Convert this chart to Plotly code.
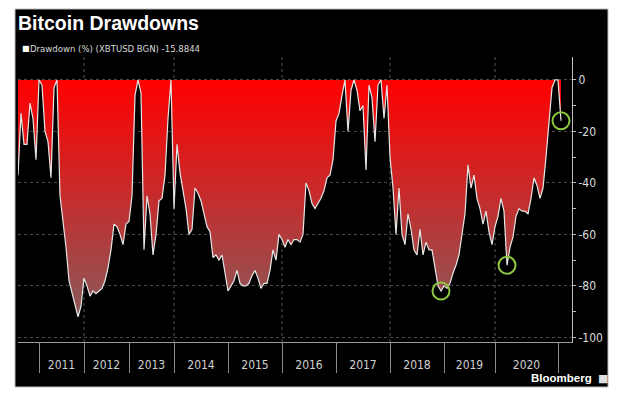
import plotly.graph_objects as go

drawdown = [
    -37, -13, -25, -25, -9, -15, -31, 0, -2, -20,
    -24, -38, -3, 0, -45, -54, -65, -78, -83, -88,
    -92, -88, -77, -80, -84, -82, -83, -82, -81, -78,
    -73, -66, -56, -57, -60, -64, -56, -55, -45, -6,
    0, -5, -66, -45, -52, -68, -60, -47, -46, -37,
    -15, 0, -50, -25, -36, -43, -50, -60, -58, -42,
    -44, -47, -52, -57, -59, -69, -68, -70, -68, -75,
    -82, -80, -78, -74, -79, -80, -80, -79, -76, -74,
    -77, -81, -79, -79, -74, -66, -70, -60, -62, -65,
    -62, -64, -62, -62, -63, -60, -40, -43, -48, -50,
    -48, -46, -43, -38, -37, -31, -16, -13, -6, 0,
    -20, -4, 0, -4, -12, -10, -35, -2, -7, -24,
    -2, 0, -15, -2, -30, -42, -60, -42, -60, -64,
    -52, -58, -66, -68, -58, -68, -63, -66, -66, -74,
    -80, -82, -80, -81, -79, -75, -72, -68, -60, -52,
    -33, -42, -37, -46, -50, -56, -51, -59, -64, -57,
    -53, -46, -51, -72, -65, -61, -53, -50, -51, -51,
    -52, -46, -38, -41, -46, -42, -30, -18, -3, 0,
    0, -15.8844,
]
obs = list(range(len(drawdown)))

# observation index at which each calendar year starts (2011 ... 2021)
year_start_obs = [7, 22, 37, 52, 70, 88, 106, 124, 142, 159, 180]
year_labels = ["2011", "2012", "2013", "2014", "2015",
               "2016", "2017", "2018", "2019", "2020"]

# highlighted observations (green circles)
highlight_obs = [141, 163, 181]

y_ticks = [0, -20, -40, -60, -80, -100]
y_minor = [-10, -30, -50, -70, -90]

# ---- derived ----
label_pos = [(a + b) / 2 for a, b in zip(year_start_obs[:-1], year_start_obs[1:])]
grid_years = year_start_obs[1::2]  # 2012, 2014, 2016, 2018, 2020

W, H = 624, 398
ML, MR, MT, MB = 18, 52, 57, 56
PW, PH = W - ML - MR, H - MT - MB

def px_x(p):
    return (p - ML) / PW

def px_y(p):
    return (H - MB - p) / PH

NARROW = "Liberation Sans Narrow, DejaVu Sans Condensed, Roboto, sans-serif"

fig = go.Figure()

fig.add_trace(go.Scatter(
    x=obs, y=drawdown, mode="lines",
    line=dict(color="#e6e6e6", width=1.2),
    fill="tozeroy",
    fillgradient=dict(type="vertical",
                      colorscale=[[0, "rgb(128,98,98)"], [1, "rgb(255,0,0)"]],
                      start=-100, stop=0),
    hoverinfo="skip", showlegend=False,
))

fig.add_trace(go.Scatter(
    x=highlight_obs, y=[drawdown[i] for i in highlight_obs], mode="markers",
    marker=dict(symbol="circle-open", size=17, color="#8dc63f",
                line=dict(width=2, color="#8dc63f")),
    hoverinfo="skip", showlegend=False,
))

shapes = [
    dict(type="rect", xref="paper", yref="paper",
         x0=px_x(15), x1=px_x(608), y0=px_y(387), y1=px_y(9),
         fillcolor="black", line=dict(width=1, color="#bbbbbb"), layer="below"),
]
for g in grid_years:
    shapes.append(dict(type="line", xref="x", yref="paper", x0=g, x1=g, y0=0, y1=1,
                       line=dict(color="#555555", width=1, dash="dot"), layer="below"))

fig.update_layout(
    width=W, height=H,
    margin=dict(l=ML, r=MR, t=MT, b=MB),
    paper_bgcolor="white", plot_bgcolor="black",
    showlegend=False,
    shapes=shapes,
    xaxis=dict(
        range=[0, PW / 3], showgrid=False, zeroline=False,
        showline=True, linecolor="#9a9a9a", linewidth=1,
        tickvals=label_pos, ticktext=year_labels, ticks="",
        tickfont=dict(family=NARROW, size=12, color="#d0d0d0"),
        ticklabelstandoff=12,
        minor=dict(tickvals=year_start_obs, ticks="outside", ticklen=30,
                   tickcolor="#8a8a8a", tickwidth=1, showgrid=False),
    ),
    yaxis=dict(
        side="right", range=[-101.8, 8.9], zeroline=False,
        showgrid=True, gridcolor="#4a4a4a", griddash="dot", gridwidth=1,
        showline=True, linecolor="#bdbdbd", linewidth=1,
        tickvals=y_ticks, ticktext=[str(v) for v in y_ticks],
        ticks="outside", ticklen=3, tickcolor="#bdbdbd",
        tickfont=dict(family=NARROW, size=12, color="#dcdcdc"),
        minor=dict(tickvals=y_minor, ticks="outside", ticklen=3,
                   tickcolor="#bdbdbd", showgrid=False),
    ),
    annotations=[
        dict(text="<b>Bitcoin Drawdowns</b>", xref="paper", yref="paper",
             x=px_x(16), y=px_y(23), xanchor="left", yanchor="middle",
             showarrow=False,
             font=dict(family="Liberation Sans, Arial, sans-serif", size=19.5, color="white")),
        dict(text="■", xref="paper", yref="paper",
             x=px_x(20), y=px_y(49), xanchor="left", yanchor="middle",
             showarrow=False, font=dict(family="DejaVu Sans", size=8, color="white")),
        dict(text=f"Drawdown (%) (XBTUSD BGN) {drawdown[-1]:.4f}",
             xref="paper", yref="paper",
             x=px_x(28), y=px_y(49), xanchor="left", yanchor="middle",
             showarrow=False, font=dict(family=NARROW, size=9.5, color="#d8d8d8")),
        dict(text="<b>Bloomberg</b>", xref="paper", yref="paper",
             x=px_x(594), y=px_y(378), xanchor="right", yanchor="middle",
             showarrow=False,
             font=dict(family="Liberation Sans, Arial, sans-serif", size=11.5, color="white")),
        dict(text="■", xref="paper", yref="paper",
             x=px_x(596), y=px_y(378), xanchor="left", yanchor="middle",
             showarrow=False, font=dict(family="DejaVu Sans", size=11, color="#dddddd")),
    ],
)

fig.write_html("out.html", config={"displayModeBar": False},
               post_script="document.body.style.margin='0px';")
